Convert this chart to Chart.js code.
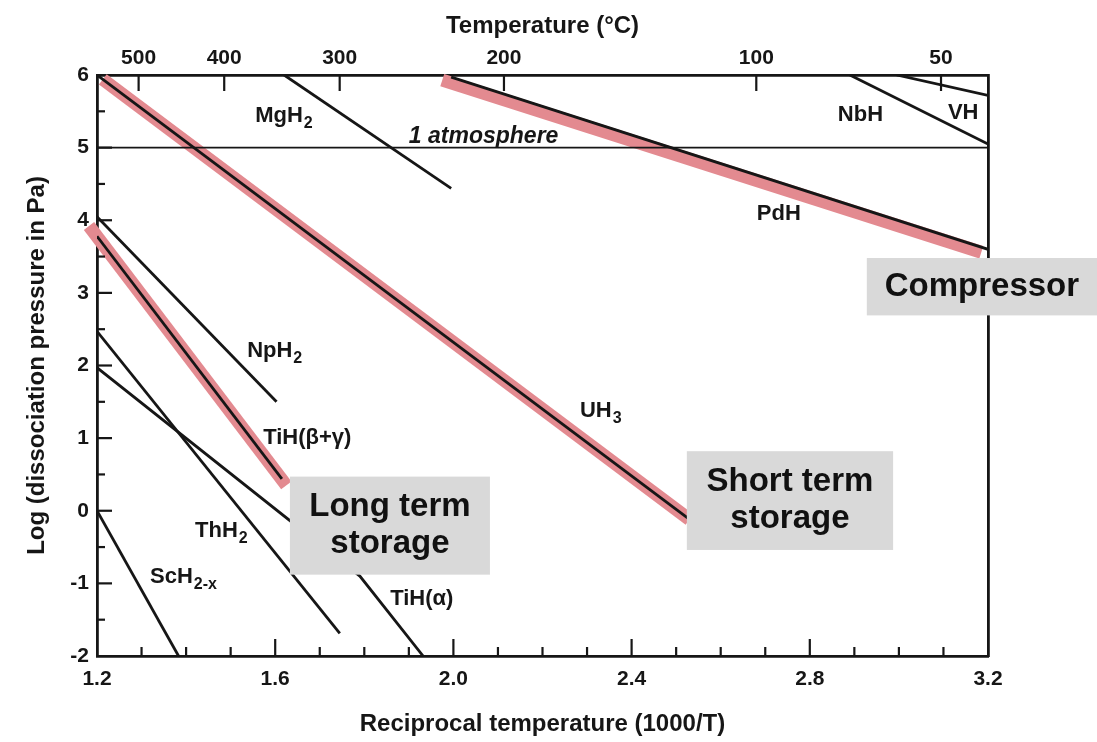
<!DOCTYPE html>
<html>
<head>
<meta charset="utf-8">
<script src="https://cdn.jsdelivr.net/npm/chart.js@4.4.0/dist/chart.umd.min.js"></script>
<style>
  html, body { margin: 0; padding: 0; background: #fff; }
  #wrap { width: 1097px; height: 742px; }
</style>
</head>
<body>
<div id="wrap"><canvas id="chart" width="1097" height="742"></canvas></div>
<script>
// ==================== DATA ====================
const reciprocalTicks = [1.2, 1.6, 2.0, 2.4, 2.8, 3.2];
const pressureTicks = [-2, -1, 0, 1, 2, 3, 4, 5, 6];
const temperatureTicks = [500, 400, 300, 200, 100, 50];

// hydride lines as [1000/T, log p] pairs
const mgH2 = [[1.62, 6.0], [1.995, 4.44]];
const uH3 = [[1.2, 6.0], [2.53, -0.12]];
const pdH = [[1.995, 5.97], [3.2, 3.6]];
const nbH = [[2.89, 6.0], [3.2, 5.05]];
const vH = [[2.995, 6.0], [3.2, 5.72]];
const npH2 = [[1.2, 4.05], [1.603, 1.5]];
const tiHBetaGamma = [[1.2, 3.78], [1.615, 0.44]];
const thH2 = [[1.2, 2.47], [1.745, -1.69]];
const tiHAlpha = [[1.2, 1.97], [1.79, -0.9], [1.932, -2.0]];
const scH2x = [[1.2, 0.0], [1.383, -2.0]];
const oneAtmosphere = [[1.2, 5.0], [3.2, 5.0]];

// red highlight bands
const uH3Band = [[1.213, 5.94], [2.53, -0.12]];
const tiHBand = [[1.182, 3.92], [1.625, 0.35]];
const pdHBand = [[1.975, 5.93], [3.185, 3.56]];

// ==================== STYLE ====================
const FONT = "'Liberation Sans', Arial, Helvetica, sans-serif";
const INK = '#161616';
const RED = '#e38a90';
const BOX = '#d9d9d9';

const lineLabels = [
  { text: 'MgH', sub: '2', x: 1.555, y: 5.35 },
  { text: '1 atmosphere', x: 1.9, y: 5.07, italic: true, size: 23 },
  { text: 'NbH', x: 2.863, y: 5.37 },
  { text: 'VH', x: 3.11, y: 5.39 },
  { text: 'PdH', x: 2.681, y: 4.0 },
  { text: 'UH', sub: '3', x: 2.284, y: 1.295 },
  { text: 'NpH', sub: '2', x: 1.537, y: 2.117 },
  { text: 'TiH(\u03b2+\u03b3)', x: 1.573, y: 0.92 },
  { text: 'ThH', sub: '2', x: 1.42, y: -0.368 },
  { text: 'ScH', sub: '2-x', x: 1.319, y: -0.99 },
  { text: 'TiH(\u03b1)', x: 1.858, y: -1.30 }
];

const calloutBoxes = [
  { lines: ['Long term', 'storage'], x0: 1.633, x1: 2.082, y0: 0.47, y1: -0.88 },
  { lines: ['Short term', 'storage'], x0: 2.524, x1: 2.987, y0: 0.82, y1: -0.54 },
  { lines: ['Compressor'], x0: 2.928, x1: 3.6, y0: 3.48, y1: 2.69 }
];

const toPoints = pairs => pairs.map(([x, y]) => ({ x, y }));

function hydride(pairs, width) {
    return {
        data: toPoints(pairs),
        borderColor: INK,
        borderWidth: width || 2.8,
        pointRadius: 0,
        tension: 0,
        order: 0
    };
}

function band(pairs) {
    return {
        data: toPoints(pairs),
        borderColor: RED,
        borderWidth: 13,
        borderCapStyle: 'butt',
        pointRadius: 0,
        tension: 0,
        clip: false,
        order: 1
    };
}

// ==================== DECOR PLUGIN ====================
const decorPlugin = {
    id: 'decor',
    afterDatasetsDraw(chart) {
        const { ctx, chartArea: a, scales } = chart;
        const xs = scales.x, ys = scales.y, xt = scales.x2;
        ctx.save();
        ctx.strokeStyle = INK;
        ctx.lineWidth = 2.2;
        const seg = (x1, y1, x2, y2) => {
            ctx.beginPath(); ctx.moveTo(x1, y1); ctx.lineTo(x2, y2); ctx.stroke();
        };

        // inward ticks, bottom axis every 0.1
        for (let i = 13; i <= 31; i++) {
            const v = i / 10;
            const major = reciprocalTicks.some(t => Math.abs(t - v) < 1e-6);
            const px = xs.getPixelForValue(v);
            seg(px, a.bottom, px, a.bottom - (major ? 17 : 9));
        }
        // left axis every 0.5
        for (let i = -3; i <= 11; i++) {
            const py = ys.getPixelForValue(i / 2);
            seg(a.left, py, a.left + (i % 2 === 0 ? 15 : 8), py);
        }
        // top axis at temperatures
        temperatureTicks.forEach(t => {
            const px = xt.getPixelForValue(1000 / (t + 273.15));
            seg(px, a.top, px, a.top + 16);
        });

        // curve labels
        ctx.fillStyle = INK;
        ctx.textBaseline = 'alphabetic';
        ctx.textAlign = 'left';
        lineLabels.forEach(l => {
            const px = xs.getPixelForValue(l.x);
            const py = ys.getPixelForValue(l.y);
            ctx.font = (l.italic ? 'italic ' : '') + 'bold ' + (l.size || 22) + 'px ' + FONT;
            ctx.fillText(l.text, px, py);
            if (l.sub) {
                const w = ctx.measureText(l.text).width;
                ctx.font = 'bold 16px ' + FONT;
                ctx.fillText(l.sub, px + w + 1, py + 6);
            }
        });

        // callout boxes
        calloutBoxes.forEach(b => {
            const x0 = xs.getPixelForValue(b.x0), x1 = xs.getPixelForValue(b.x1);
            const y0 = ys.getPixelForValue(b.y0), y1 = ys.getPixelForValue(b.y1);
            ctx.fillStyle = BOX;
            ctx.fillRect(x0, y0, x1 - x0, y1 - y0);
            ctx.fillStyle = '#111';
            ctx.font = 'bold 33px ' + FONT;
            ctx.textAlign = 'center';
            ctx.textBaseline = 'middle';
            const cx = (x0 + Math.min(x1, chart.width)) / 2;
            const cy = (y0 + y1) / 2;
            const gap = 37;
            b.lines.forEach((s, i) => {
                ctx.fillText(s, cx, cy + (i - (b.lines.length - 1) / 2) * gap);
            });
        });
        ctx.restore();
    }
};

// ==================== CHART ====================
const tickFont = { family: FONT, size: 21, weight: 'bold' };
const titleFont = { family: FONT, size: 24, weight: 'bold' };
const frame = { display: true, color: INK, width: 2.8 };
const noGrid = { display: false, drawTicks: false };

new Chart(document.getElementById('chart'), {
    type: 'line',
    data: {
        datasets: [
            hydride(mgH2), hydride(uH3), hydride(pdH), hydride(nbH), hydride(vH),
            hydride(npH2), hydride(tiHBetaGamma), hydride(thH2), hydride(tiHAlpha),
            hydride(scH2x), hydride(oneAtmosphere, 1.8),
            band(uH3Band), band(tiHBand), band(pdHBand)
        ]
    },
    options: {
        responsive: false,
        animation: false,
        layout: { padding: 0 },
        plugins: { legend: { display: false }, tooltip: { enabled: false } },
        scales: {
            x: {
                type: 'linear', position: 'bottom', min: 1.2, max: 3.2,
                grid: noGrid, border: frame,
                afterBuildTicks: s => { s.ticks = reciprocalTicks.map(v => ({ value: v })); },
                afterFit: s => { s.height = 86; },
                ticks: { color: INK, font: tickFont, padding: 11, maxRotation: 0, autoSkip: false,
                         callback: v => v.toFixed(1) },
                title: { display: true, text: 'Reciprocal temperature (1000/T)', color: INK,
                         font: titleFont, padding: { top: 0, bottom: 3 } }
            },
            x2: {
                type: 'linear', position: 'top', min: 1.2, max: 3.2,
                grid: noGrid, border: frame,
                afterBuildTicks: s => { s.ticks = temperatureTicks.map(t => ({ value: 1000 / (t + 273.15) })); },
                afterFit: s => { s.height = 75; },
                ticks: { color: INK, font: tickFont, padding: 4, maxRotation: 0, autoSkip: false,
                         callback: (v, i) => String(temperatureTicks[i]) },
                title: { display: true, text: 'Temperature (\u00b0C)', color: INK,
                         font: titleFont, padding: { top: 12, bottom: 0 } }
            },
            y: {
                type: 'linear', position: 'left', min: -2, max: 6,
                grid: noGrid, border: frame,
                afterBuildTicks: s => { s.ticks = pressureTicks.map(v => ({ value: v })); },
                afterFit: s => { s.width = 97; },
                ticks: { color: INK, font: tickFont, padding: 8 },
                title: { display: true, text: 'Log (dissociation pressure in Pa)', color: INK,
                         font: titleFont, padding: { top: 23, bottom: 0 } }
            },
            y2: {
                type: 'linear', position: 'right', min: -2, max: 6,
                grid: noGrid, border: frame,
                afterFit: s => { s.width = 109; },
                ticks: { display: false }
            }
        }
    },
    plugins: [decorPlugin]
});
</script>
</body>
</html>
